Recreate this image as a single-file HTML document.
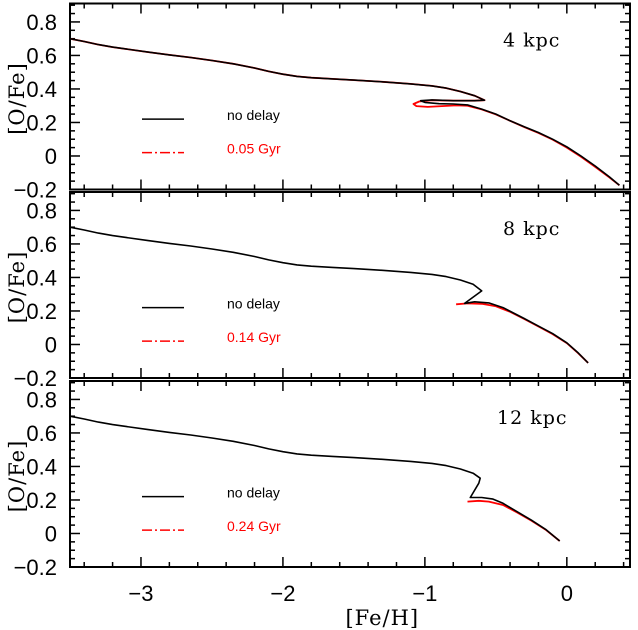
<!DOCTYPE html>
<html><head><meta charset="utf-8"><style>
html,body{margin:0;padding:0;background:#fff;}
svg{display:block;}
</style></head><body>
<svg id="chart" width="638" height="630" xmlns="http://www.w3.org/2000/svg"></svg>
<script>
const xTicks=[-3,-2,-1,0];
const xTickLabels=["\u22123","\u22122","\u22121","0"];
const yTicks=[-0.2,0,0.2,0.4,0.6,0.8];
const yTickLabels=["\u22120.2","0","0.2","0.4","0.6","0.8"];
const panelNames=["4 kpc","8 kpc","12 kpc"];
const delayLabels=["0.05 Gyr","0.14 Gyr","0.24 Gyr"];
const common=[[-3.5,0.70],[-3.4,0.683],[-3.3,0.665],[-3.2,0.65],[-3.1,0.638],[-2.95,0.62],[-2.8,0.603],[-2.65,0.588],[-2.5,0.57],[-2.35,0.55],[-2.2,0.525],[-2.1,0.505],[-2.0,0.488],[-1.9,0.475],[-1.8,0.467],[-1.65,0.46],[-1.5,0.453],[-1.3,0.443],[-1.1,0.43]];
const noDelay4=[[-0.95,0.418],[-0.85,0.405],[-0.75,0.385],[-0.65,0.36],[-0.58,0.333],[-0.65,0.33],[-0.8,0.33],[-0.95,0.335],[-1.03,0.33],[-1.0,0.32],[-0.9,0.312],[-0.8,0.31],[-0.7,0.305],[-0.6,0.28],[-0.5,0.25],[-0.4,0.21],[-0.3,0.175],[-0.2,0.14],[-0.1,0.1],[0,0.055],[0.1,0.0],[0.2,-0.06],[0.3,-0.125],[0.37,-0.175]];
const delay4=[[-0.95,0.418],[-0.85,0.405],[-0.75,0.385],[-0.65,0.36],[-0.58,0.333],[-0.65,0.33],[-0.8,0.33],[-0.95,0.333],[-1.04,0.325],[-1.08,0.31],[-1.06,0.298],[-0.98,0.293],[-0.88,0.298],[-0.78,0.302],[-0.7,0.3],[-0.6,0.278],[-0.5,0.248],[-0.4,0.21],[-0.3,0.173],[-0.2,0.138],[-0.1,0.098],[0,0.05],[0.1,-0.005],[0.2,-0.065],[0.3,-0.128],[0.37,-0.175]];
const noDelay8=[[-0.95,0.418],[-0.85,0.405],[-0.75,0.385],[-0.66,0.36],[-0.6,0.32],[-0.72,0.245],[-0.65,0.255],[-0.55,0.248],[-0.45,0.22],[-0.3,0.155],[-0.2,0.11],[-0.1,0.065],[0,0.01],[0.08,-0.05],[0.15,-0.11]];
const delay8=[[-0.78,0.24],[-0.7,0.245],[-0.6,0.243],[-0.5,0.228],[-0.4,0.195],[-0.3,0.152],[-0.2,0.108],[-0.1,0.062],[0,0.008],[0.08,-0.052],[0.15,-0.11]];
const noDelay12=[[-0.95,0.418],[-0.85,0.405],[-0.75,0.385],[-0.66,0.36],[-0.61,0.33],[-0.62,0.3],[-0.68,0.215],[-0.6,0.215],[-0.52,0.205],[-0.45,0.18],[-0.35,0.13],[-0.25,0.08],[-0.15,0.025],[-0.05,-0.045]];
const delay12=[[-0.7,0.19],[-0.62,0.195],[-0.55,0.19],[-0.45,0.17],[-0.35,0.125],[-0.25,0.077],[-0.15,0.023],[-0.05,-0.045]];
const series=[[noDelay4,delay4],[noDelay8,delay8],[noDelay12,delay12]];

const svg=document.getElementById('chart');
const NS='http://www.w3.org/2000/svg';
const L=70,R=630,X0=-3.5,X1=0.445;
const bottoms=[189.5,378,567];
const PH=186;
function xs(v){return L+(v-X0)/(X1-X0)*(R-L);}
function ysF(p){const b=bottoms[p];return v=>b-(v+0.2)/1.11*PH;}
function el(tag,attrs,parent){const e=document.createElementNS(NS,tag);for(const k in attrs)e.setAttribute(k,attrs[k]);(parent||svg).appendChild(e);return e;}

for(let p=0;p<3;p++){
  const ys=ysF(p);const b=bottoms[p];const top=b-PH;
  const g=el('g',{});
  
  
  for(let v=-3.4;v<=0.45;v+=0.2){const vv=Math.round(v*10)/10;const major=Math.abs(vv-Math.round(vv))<1e-6;const len=major?10:5;const x=xs(vv);
    el('line',{x1:x,x2:x,y1:b,y2:b-len,stroke:'#000','stroke-width':1.5},g);
    el('line',{x1:x,x2:x,y1:top,y2:top+len,stroke:'#000','stroke-width':1.5},g);}
  for(let i=-4;i<=18;i++){const v=i*0.05;if(v>0.92)break;const major=(i%4===0);const len=major?10:5;const y=ys(v);
    el('line',{x1:L,x2:L+len,y1:y,y2:y,stroke:'#000','stroke-width':1.5},g);
    el('line',{x1:R,x2:R-len,y1:y,y2:y,stroke:'#000','stroke-width':1.5},g);}
  yTicks.forEach((v,i)=>{const t=el('text',{x:57,y:ys(v)+8,'text-anchor':'end','font-family':'Liberation Sans, sans-serif','font-size':22},g);t.textContent=yTickLabels[i];
    });
  const yt=el('text',{transform:`translate(24,${(top+b)/2+2}) rotate(-90)`,'text-anchor':'middle','font-family':'DejaVu Serif, serif','font-size':21,'letter-spacing':'1'},g);
  yt.textContent='[O/Fe]';
  
  const mk=(pts)=>pts.map((q,i)=>(i?'L':'M')+xs(q[0]).toFixed(1)+','+ys(q[1]).toFixed(1)).join(' ');
  const red=el('path',{d:mk(series[p][1][0][0]<-0.85?common.concat(series[p][1]):series[p][1]),fill:'none',stroke:'#f00','stroke-width':1.8,'stroke-linejoin':'round'},g);
  
  const blk=el('path',{d:mk(common.concat(series[p][0])),fill:'none',stroke:'#000','stroke-width':1.6,'stroke-linejoin':'round'},g);
  
  const ly=ys(0.22),ly2=ys(0.02);
  el('line',{x1:142,x2:184,y1:ly,y2:ly,stroke:'#000','stroke-width':1.6},g);
  el('line',{x1:142,x2:184,y1:ly2,y2:ly2,stroke:'#f00','stroke-width':1.6,'stroke-dasharray':'10,3,2,3'},g);
  const t1=el('text',{x:227,y:ly+1,'font-family':'Liberation Sans, sans-serif','font-size':14},g);t1.textContent='no delay';
  
  const t2=el('text',{x:227,y:ly2+1,fill:'#f00','font-family':'Liberation Sans, sans-serif','font-size':14},g);t2.textContent=delayLabels[p];
  
  const pl=el('text',{x:p==2?497:503,y:ys(0.66)+1,'font-family':'DejaVu Serif, serif','font-size':19,'letter-spacing':'1'},g);pl.textContent=panelNames[p];
  
  el('rect',{x:L,y:top,width:R-L,height:PH,fill:'none',stroke:'#000','stroke-width':2},g);
}
xTicks.forEach((v,i)=>{const t=el('text',{x:xs(v),y:601,'text-anchor':'middle','font-family':'Liberation Sans, sans-serif','font-size':22});t.textContent=xTickLabels[i];
  });
const xt=el('text',{x:xs(-1.3),y:625,'text-anchor':'middle','font-family':'DejaVu Serif, serif','font-size':21,'letter-spacing':'1'});xt.textContent='[Fe/H]';

</script>
</body></html>
